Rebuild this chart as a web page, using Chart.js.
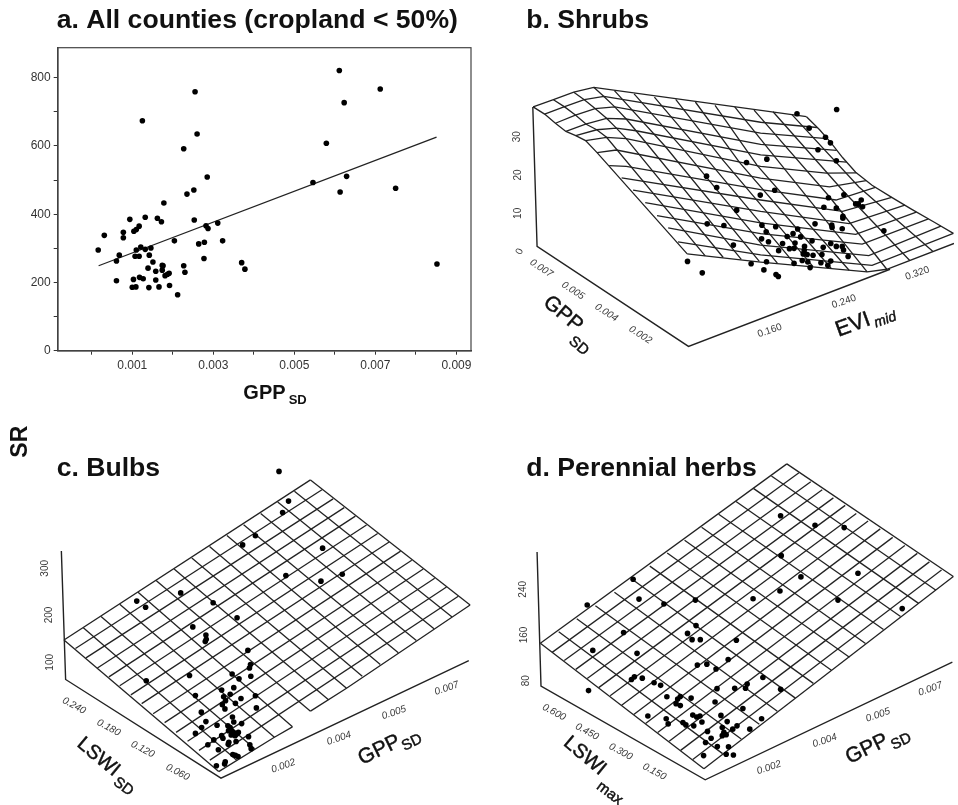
<!DOCTYPE html>
<html>
<head>
<meta charset="utf-8">
<title>SR panels</title>
<script src="https://cdn.jsdelivr.net/npm/chart.js@4"></script>
<style>
  html, body { margin: 0; padding: 0; background: #fff; width: 958px; height: 805px; overflow: hidden; }
  canvas { position: absolute; }
</style>
</head>
<body>
<canvas id="panelA" width="480" height="415" style="left:0;top:0"></canvas>
<canvas id="panelB" width="480" height="400" style="left:478px;top:0"></canvas>
<canvas id="panelC" width="480" height="400" style="left:0;top:405px"></canvas>
<canvas id="panelD" width="480" height="400" style="left:478px;top:405px"></canvas>
<script>
// panel a, real axis values: GPP_SD against SR
const allGpp = [.00016,.00031,.00061,.00061,.00068,.00078,.00078,.00094,.00103,.00100,.00109,.00104,.00110,.00117,.00110,.00107,.00117,.00121,.00132,.00146,.00132,.00125,.00118,.00127,.00142,.00139,.00141,.00151,.00158,.00158,.00166,.00162,.00172,.00178,.00174,.00176,.00174,.00181,.00187,.00191,.00192,.00204,.00212,.00227,.00230,.00227,.00235,.00252,.00253,.00255,.00260,.00264,.00278,.00277,.00282,.00287,.00285,.00311,.00323,.00370,.00378,.00546,.00579,.00611,.00623,.00613,.00629,.00712,.00750,.00852];
const allSr = [295,338,263,205,280,347,331,385,209,186,187,350,355,365,295,277,277,304,297,301,391,674,215,211,280,242,185,260,233,207,187,388,378,433,250,249,236,220,224,227,191,322,164,249,230,592,459,471,383,759,635,313,318,270,366,358,509,374,322,258,239,493,608,821,727,465,511,767,476,254];
const fitGpp = [.00017,.00851];
const fitSr = [249,626];
const gppTicks = [0,.001,.002,.003,.004,.005,.006,.007,.008,.009];
const gppTickLabels = ['','0.001','','0.003','','0.005','','0.007','','0.009'];

// panels b, c, d are 3d perspective plots: values are read in the flat picture plane
const shrubPoints = [[1082,323],[961,336],[998,380],[1048,408],[1063,425],[1025,446],[1081,480],[869,475],[807,485],[685,527],[716,562],[893,570],[849,585],[1104,584],[1057,593],[1157,600],[1140,612],[1148,612],[1161,621],[1043,622],[1081,625],[777,631],[1101,650],[1101,656],[1016,673],[1067,677],[1068,684],[1099,688],[687,673],[738,678],[854,677],[896,682],[867,697],[963,689],[949,703],[931,712],[972,713],[1226,694],[853,719],[874,728],[917,733],[955,732],[1007,725],[1064,733],[1081,742],[1099,742],[1103,753],[767,738],[938,749],[952,748],[984,742],[1041,745],[905,755],[983,755],[1117,773],[980,765],[992,767],[1010,769],[1037,767],[977,785],[994,790],[952,794],[1034,792],[1064,787],[1055,800],[1001,807],[627,788],[672,823],[821,795],[868,789],[860,814],[897,828],[904,834]];
const shrubRows = [
  [[156,315],[218,293],[280,270],[341,255],[990,345]],
  [[191,337],[250,315],[312,293],[372,283],[850,362],[1022,378]],
  [[224,365],[285,340],[345,320],[405,315],[850,395],[1052,412]],
  [[256,390],[316,368],[380,350],[440,352],[850,430],[1082,448]],
  [[286,403],[350,385],[410,380],[470,388],[850,462],[1112,484]],
  [[316,418],[380,408],[440,412],[850,497],[1050,518],[1142,517]],
  [[351,455],[410,447],[850,533],[1060,560],[1172,541]],
  [[388,495],[440,497],[850,568],[1080,600],[1200,561]],
  [[426,532],[850,600],[1100,635],[1250,592]],
  [[461,570],[850,635],[1120,672],[1290,616]],
  [[498,608],[850,670],[1140,705],[1325,637]],
  [[534,648],[850,703],[1160,735],[1362,658]],
  [[568,685],[850,738],[1180,770],[1400,680]],
  [[598,728],[850,768],[1190,800],[1438,702]],
  [[626,765],[850,790],[1175,820],[1235,812],[1440,733]]
];
const shrubColumns = [
  [[156,315],[191,337],[224,365],[256,390],[286,403],[316,418],[351,455],[626,765]],
  [[218,293],[252,315],[285,340],[318,368],[350,385],[380,408],[681,771]],
  [[280,270],[312,293],[345,320],[380,350],[410,380],[440,412],[736,776]],
  [[341,255],[372,283],[405,315],[440,352],[470,388],[500,424],[791,782]],
  [[404,265],[560,437],[846,788]],
  [[464,275],[618,449],[901,793]],
  [[526,285],[675,461],[956,798]],
  [[591,292],[730,472],[1010,804]],
  [[651,300],[785,484],[1065,809]],
  [[711,310],[840,495],[1120,815]],
  [[771,315],[1175,820]],
  [[830,325],[1060,590],[1235,812]],
  [[888,330],[1100,570],[1305,785]],
  [[945,338],[1150,560],[1375,757]],
  [[990,345],[1030,385],[1065,425],[1100,470],[1140,515],[1190,555],[1250,592],[1310,628],[1380,668],[1438,702]]
];
const shrubAxes = [[[155,315],[168,742],[630,1048],[1245,812]]];

const bulbPoints = [[839,191],[868,282],[850,317],[767,388],[728,416],[972,426],[860,510],[967,527],[1032,506],[405,588],[432,607],[539,563],[638,593],[711,639],[576,667],[616,692],[617,705],[614,712],[744,739],[752,782],[749,793],[434,832],[566,816],[696,811],[717,826],[753,818],[584,877],[664,860],[701,853],[690,873],[670,881],[723,886],[767,878],[676,893],[666,905],[706,901],[674,918],[770,915],[602,928],[616,957],[697,943],[701,958],[725,963],[650,968],[603,975],[683,970],[690,975],[695,985],[685,985],[700,990],[710,995],[715,990],[693,998],[705,1000],[584,993],[640,1013],[664,1000],[668,1008],[746,1003],[622,1028],[686,1020],[684,1026],[708,1018],[654,1043],[750,1028],[754,1040],[698,1058],[706,1060],[714,1064],[648,1092],[675,1080],[673,1087]];
const bulbAcross = [
  [[935,217],[183,707]],[[970,247],[218,733]],[[1004,275],[250,762]],[[1038,302],[285,793]],
  [[1072,328],[320,820]],[[1106,355],[353,847]],[[1140,381],[387,875]],[[1175,407],[420,902]],
  [[1210,435],[455,933]],[[1244,463],[490,960]],[[1279,490],[525,990]],[[1314,518],[560,1017]],
  [[1350,545],[595,1045]],[[1386,573],[628,1075]],
  [[1422,600],[1045,855],[935,925]],[[880,973],[825,1005],[655,1110]]
];
const bulbAlong = [
  [[183,707],[655,1110]],[[242,670],[710,1075]],[[296,635],[765,1040]],[[353,598],[825,1005]],
  [[409,561],[880,973]],[[464,525],[935,925]],[[519,490],[990,890]],[[573,456],[1045,855]],
  [[627,421],[1093,818]],[[680,387],[1148,782]],[[731,354],[1203,746]],[[783,320],[1258,709]],
  [[835,285],[1312,673]],[[886,252],[1367,637]],[[935,217],[1422,600]]
];
const bulbAxes = [[[175,435],[188,828],[662,1130],[1418,770]]];

const herbPoints = [[911,327],[1016,356],[1105,363],[913,449],[973,514],[1147,503],[909,557],[827,581],[1086,585],[1282,611],[461,521],[321,600],[479,582],[555,597],[651,585],[432,684],[338,739],[473,748],[653,663],[627,687],[641,706],[666,706],[776,708],[657,784],[686,781],[751,767],[714,796],[465,820],[456,828],[489,824],[525,838],[545,846],[325,862],[857,822],[809,842],[804,855],[771,855],[717,856],[911,858],[564,881],[605,880],[597,888],[638,885],[592,902],[605,908],[711,897],[796,917],[506,940],[562,948],[568,964],[613,960],[622,967],[646,970],[643,937],[655,943],[665,940],[671,958],[729,938],[748,957],[853,948],[733,975],[778,970],[765,980],[817,980],[688,987],[738,990],[733,1000],[745,997],[699,1008],[682,1021],[718,1033],[752,1034],[676,1061],[745,1057],[767,1059]];
const herbAcross = [
  [[930,168],[178,717]],[[967,195],[214,745]],[[1003,223],[251,770]],[[1038,247],[286,797]],
  [[1072,272],[321,825]],[[1108,295],[356,853]],[[1142,320],[391,878]],[[1178,343],[426,907]],
  [[1215,367],[463,935]],[[1253,393],[499,963]],[[1290,418],[536,990]],[[1328,442],[571,1017]],
  [[1365,468],[606,1045]],[[1402,493],[643,1073]],[[1438,513],[677,1101]]
];
const herbAlong = [
  [[178,717],[677,1101]],[[234,682],[734,1055]],[[289,642],[791,1010]],[[346,602],[846,965]],
  [[404,561],[901,925]],[[458,521],[956,885]],[[512,481],[1011,840]],[[565,441],[1066,800]],
  [[618,402],[1121,760]],[[670,362],[1170,718]],[[722,322],[1225,675]],[[775,283],[1277,635]],
  [[828,243],[1332,595]],[[883,205],[1385,555]],[[930,168],[1438,513]]
];
const herbAxes = [[[168,438],[180,848],[681,1135],[1435,775]]];

const inkColor = '#222';
const sans = '"Liberation Sans", Arial, sans-serif';
const TITLE = 'bold 26.6px ' + sans;
const SMALL = '10px ' + sans;
const SMALL_IT = 'italic 10px ' + sans;
const DOT_RADIUS = 2.8;

// texts placed on the canvas, positions in 3x crop units of each panel
const panelText = {
  id: 'panelText',
  afterDraw(chart, args, opts) {
    const ctx = chart.ctx;
    for (const t of opts.items) {
      ctx.save();
      ctx.translate(t[1] / 3, t[2] / 3);
      ctx.rotate((t[3] || 0) * Math.PI / 180);
      ctx.font = t[4] || SMALL;
      ctx.fillStyle = t[5] || '#3a3a3a';
      ctx.textAlign = t[6] || 'center';
      ctx.textBaseline = t[6] === 'left' ? 'alphabetic' : 'middle';
      ctx.fillText(t[0], 0, 0);
      // the rotated axis names look heavier than plain regular
      if (t[5] === '#111' && !t[6]) {
        ctx.strokeStyle = '#111';
        ctx.lineWidth = 0.45;
        ctx.strokeText(t[0], 0, 0);
      }
      ctx.restore();
    }
  }
};

function wire(pts, width) {
  return {
    type: 'scatter',
    data: pts.map(p => ({ x: p[0], y: p[1] })),
    showLine: true,
    pointRadius: 0,
    borderColor: inkColor,
    borderWidth: width || 1.3,
    tension: 0
  };
}

function dots(pts) {
  return {
    type: 'scatter',
    data: pts.map(p => ({ x: p[0], y: p[1] })),
    pointRadius: DOT_RADIUS,
    pointBackgroundColor: '#000',
    pointBorderWidth: 0
  };
}

function drawPerspective(id, wires, axes, points, items) {
  new Chart(document.getElementById(id), {
    type: 'scatter',
    data: {
      datasets: [dots(points)].concat(wires.map(w => wire(w)), axes.map(w => wire(w, 1.4)))
    },
    options: {
      responsive: false,
      animation: false,
      layout: { padding: 0 },
      scales: {
        x: { type: 'linear', display: false, min: 0, max: 1440 },
        y: { type: 'linear', display: false, min: 0, max: 1200, reverse: true }
      },
      plugins: { legend: { display: false }, tooltip: { enabled: false }, panelText: { items } }
    },
    plugins: [panelText]
  });
}

const boxFrame = {
  id: 'boxFrame',
  beforeDatasetsDraw(chart) {
    const a = chart.chartArea, ctx = chart.ctx;
    ctx.save();
    ctx.strokeStyle = '#444';
    ctx.lineWidth = 1.2;
    ctx.strokeRect(a.left, a.top, a.right - a.left, a.bottom - a.top);
    ctx.restore();
  }
};

new Chart(document.getElementById('panelA'), {
  type: 'scatter',
  data: {
    datasets: [
      {
        data: allGpp.map((g, i) => ({ x: g, y: allSr[i] })),
        pointRadius: DOT_RADIUS,
        pointBackgroundColor: '#000',
        pointBorderWidth: 0
      },
      {
        data: fitGpp.map((g, i) => ({ x: g, y: fitSr[i] })),
        showLine: true,
        pointRadius: 0,
        borderColor: inkColor,
        borderWidth: 1.3
      }
    ]
  },
  options: {
    responsive: false,
    animation: false,
    layout: { padding: { left: 0, top: 47.7, right: 9, bottom: 34.3 } },
    scales: {
      x: {
        type: 'linear',
        min: -0.00084,
        max: 0.00936,
        afterBuildTicks: s => { s.ticks = gppTicks.map(v => ({ value: v })); },
        afterFit: s => { s.height = 30; },
        grid: { drawOnChartArea: false, tickLength: 4, color: '#333' },
        border: { color: '#333', width: 1.5 },
        ticks: {
          maxRotation: 0,
          autoSkip: false,
          padding: 4,
          color: '#333',
          font: { family: sans, size: 12 },
          callback: (v, i) => gppTickLabels[i]
        }
      },
      y: {
        type: 'linear',
        min: 0,
        max: 888,
        afterFit: s => { s.width = 57.7; },
        grid: { drawOnChartArea: false, tickLength: 4, color: '#333' },
        border: { color: '#333', width: 1.5 },
        ticks: {
          stepSize: 100,
          includeBounds: false,
          padding: 3,
          color: '#333',
          font: { family: sans, size: 12 },
          callback: v => (v % 200 === 0 ? String(v) : '')
        }
      }
    },
    plugins: {
      legend: { display: false },
      tooltip: { enabled: false },
      panelText: {
        items: [
          ['a. All counties (cropland < 50%)', 170, 84, 0, TITLE, '#111', 'left'],
          ['GPP', 730, 1196, 0, 'bold 20px ' + sans, '#111', 'left'],
          ['SD', 866, 1212, 0, 'bold 13px ' + sans, '#111', 'left']
        ]
      }
    }
  },
  plugins: [boxFrame, panelText]
});

drawPerspective('panelB', shrubRows.concat(shrubColumns), shrubAxes, shrubPoints, [
  ['b. Shrubs', 145, 84, 0, TITLE, '#111', 'left'],
  ['30', 118, 410, -90], ['20', 122, 525, -90], ['10', 122, 640, -90], ['0', 125, 755, -65],
  ['0.007', 190, 805, 33, SMALL_IT], ['0.005', 285, 872, 33, SMALL_IT], ['0.004', 385, 938, 33, SMALL_IT], ['0.002', 487, 1005, 33, SMALL_IT],
  ['0.160', 875, 992, -19], ['0.240', 1098, 905, -19], ['0.320', 1318, 820, -19],
  ['GPP', 255, 942, 40, '21px ' + sans, '#111'],
  ['SD', 302, 1038, 40, '15px ' + sans, '#111'],
  ['EVI', 1125, 975, -20, '22px ' + sans, '#111'],
  ['mid', 1222, 960, -20, 'italic 14px ' + sans, '#111']
]);

drawPerspective('panelC', bulbAcross.concat(bulbAlong), bulbAxes, bulbPoints, [
  ['c. Bulbs', 170, 212, 0, TITLE, '#111', 'left'],
  ['SR', 63, 110, -90, 'bold 23px ' + sans, '#111', 'center'],
  ['300', 135, 490, -90], ['200', 148, 630, -90], ['100', 150, 772, -90],
  ['0.240', 222, 902, 28, SMALL_IT], ['0.180', 326, 968, 28, SMALL_IT], ['0.120', 428, 1033, 28, SMALL_IT], ['0.060', 533, 1102, 28, SMALL_IT],
  ['0.002', 850, 1083, -19, SMALL_IT], ['0.004', 1017, 1000, -19, SMALL_IT], ['0.005', 1182, 923, -19, SMALL_IT], ['0.007', 1340, 850, -19, SMALL_IT],
  ['LSWI', 295, 1056, 40, '20px ' + sans, '#111'],
  ['SD', 370, 1145, 37, '15px ' + sans, '#111'],
  ['GPP', 1138, 1035, -26, '21px ' + sans, '#111'],
  ['SD', 1236, 1013, -26, '15px ' + sans, '#111']
]);

drawPerspective('panelD', herbAcross.concat(herbAlong), herbAxes, herbPoints, [
  ['d. Perennial herbs', 145, 212, 0, TITLE, '#111', 'left'],
  ['240', 136, 553, -90], ['160', 140, 690, -90], ['80', 146, 827, -90],
  ['0.600', 228, 922, 28, SMALL_IT], ['0.450', 327, 980, 28, SMALL_IT], ['0.300', 428, 1040, 28, SMALL_IT], ['0.150', 529, 1100, 28, SMALL_IT],
  ['0.002', 873, 1088, -19, SMALL_IT], ['0.004', 1040, 1007, -19, SMALL_IT], ['0.005', 1200, 930, -19, SMALL_IT], ['0.007', 1357, 852, -19, SMALL_IT],
  ['LSWI', 320, 1053, 40, '20px ' + sans, '#111'],
  ['max', 395, 1165, 37, '15px ' + sans, '#111'],
  ['GPP', 1167, 1032, -26, '21px ' + sans, '#111'],
  ['SD', 1270, 1010, -26, '15px ' + sans, '#111']
]);
</script>
</body>
</html>
